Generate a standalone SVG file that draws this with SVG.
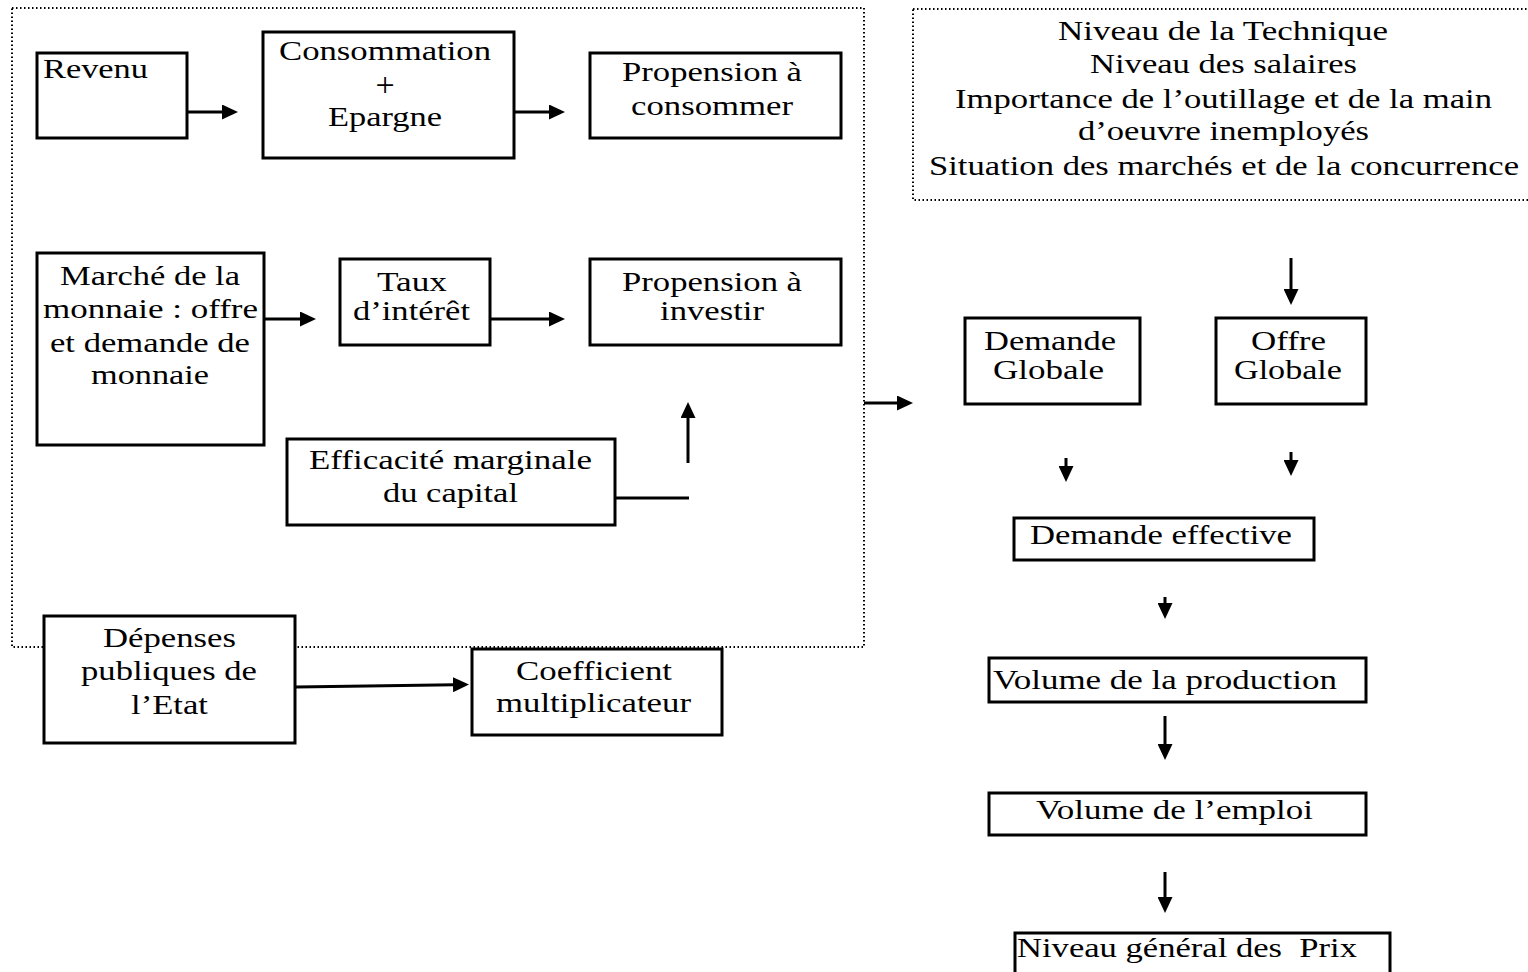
<svg xmlns="http://www.w3.org/2000/svg" width="1528" height="972" viewBox="0 0 1528 972">
<style>
.frame{fill:none;stroke:#000;stroke-width:2;stroke-dasharray:1.5 2.5}
.box{fill:#fff;stroke:#000;stroke-width:3}
.t{font-family:"Liberation Serif","Times New Roman",serif;font-size:27px;fill:#000}
.c{fill:none;stroke:#000;stroke-width:3}
</style>
<defs>
<marker id="arr" markerUnits="userSpaceOnUse" markerWidth="16" markerHeight="15" refX="2" refY="7.5" orient="auto">
<path d="M0,0 L16,7.5 L0,15 z" fill="#000"/>
</marker>
</defs>
<rect width="1528" height="972" fill="#fff"/>
<g id="frames">
<rect class="frame" x="12" y="8" width="852" height="639"/>
<rect class="frame" x="913" y="9" width="640" height="191"/>
</g>
<g id="connectors">
<path class="c" d="M187,112 H224" marker-end="url(#arr)"/>
<path class="c" d="M514,112 H551" marker-end="url(#arr)"/>
<path class="c" d="M264,319 H302" marker-end="url(#arr)"/>
<path class="c" d="M490,319 H551" marker-end="url(#arr)"/>
<path class="c" d="M616,498 H689"/>
<path class="c" d="M688,463 V416" marker-end="url(#arr)"/>
<path class="c" d="M296,687 L455,684.7" marker-end="url(#arr)"/>
<path class="c" d="M864,403 H899" marker-end="url(#arr)"/>
<path class="c" d="M1291,258 V291" marker-end="url(#arr)"/>
<path class="c" d="M1066,458 V468" marker-end="url(#arr)"/>
<path class="c" d="M1291,452 V462" marker-end="url(#arr)"/>
<path class="c" d="M1165,597 V605" marker-end="url(#arr)"/>
<path class="c" d="M1165,716 V746" marker-end="url(#arr)"/>
<path class="c" d="M1165,872 V899" marker-end="url(#arr)"/>
</g>
<g id="facteurs">
<text class="t" x="1058" y="40" textLength="330" lengthAdjust="spacingAndGlyphs">Niveau de la Technique</text>
<text class="t" x="1090" y="73" textLength="267" lengthAdjust="spacingAndGlyphs">Niveau des salaires</text>
<text class="t" x="955" y="108" textLength="537" lengthAdjust="spacingAndGlyphs">Importance de l’outillage et de la main</text>
<text class="t" x="1078" y="140" textLength="291" lengthAdjust="spacingAndGlyphs">d’oeuvre inemployés</text>
<text class="t" x="929" y="175" textLength="590" lengthAdjust="spacingAndGlyphs">Situation des marchés et de la concurrence</text>
</g>
<g id="revenu">
<rect class="box" x="37" y="53" width="150" height="85"/>
<text class="t" x="43" y="78" textLength="105" lengthAdjust="spacingAndGlyphs">Revenu</text>
</g>
<g id="consommation">
<rect class="box" x="263" y="32" width="251" height="126"/>
<text class="t" x="279" y="60" textLength="212" lengthAdjust="spacingAndGlyphs">Consommation</text>
<text class="t" x="385" y="96" text-anchor="middle" style="font-size:34px">+</text>
<text class="t" x="328" y="126" textLength="114" lengthAdjust="spacingAndGlyphs">Epargne</text>
</g>
<g id="propension-consommer">
<rect class="box" x="590" y="53" width="251" height="85"/>
<text class="t" x="622" y="81" textLength="180" lengthAdjust="spacingAndGlyphs">Propension à</text>
<text class="t" x="631" y="115" textLength="162" lengthAdjust="spacingAndGlyphs">consommer</text>
</g>
<g id="marche-monnaie">
<rect class="box" x="37" y="253" width="227" height="192"/>
<text class="t" x="60" y="285" textLength="180" lengthAdjust="spacingAndGlyphs">Marché de la</text>
<text class="t" x="43" y="318" textLength="215" lengthAdjust="spacingAndGlyphs">monnaie : offre</text>
<text class="t" x="50" y="352" textLength="200" lengthAdjust="spacingAndGlyphs">et demande de</text>
<text class="t" x="91" y="384" textLength="118" lengthAdjust="spacingAndGlyphs">monnaie</text>
</g>
<g id="taux-interet">
<rect class="box" x="340" y="259" width="150" height="86"/>
<text class="t" x="377" y="291" textLength="70" lengthAdjust="spacingAndGlyphs">Taux</text>
<text class="t" x="353" y="320" textLength="117" lengthAdjust="spacingAndGlyphs">d’intérêt</text>
</g>
<g id="propension-investir">
<rect class="box" x="590" y="259" width="251" height="86"/>
<text class="t" x="622" y="291" textLength="180" lengthAdjust="spacingAndGlyphs">Propension à</text>
<text class="t" x="660" y="320" textLength="104" lengthAdjust="spacingAndGlyphs">investir</text>
</g>
<g id="efficacite">
<rect class="box" x="287" y="439" width="328" height="86"/>
<text class="t" x="309" y="469" textLength="283" lengthAdjust="spacingAndGlyphs">Efficacité marginale</text>
<text class="t" x="383" y="502" textLength="135" lengthAdjust="spacingAndGlyphs">du capital</text>
</g>
<g id="depenses">
<rect class="box" x="44" y="616" width="251" height="127"/>
<text class="t" x="103" y="647" textLength="133" lengthAdjust="spacingAndGlyphs">Dépenses</text>
<text class="t" x="81" y="680" textLength="176" lengthAdjust="spacingAndGlyphs">publiques de</text>
<text class="t" x="131" y="714" textLength="77" lengthAdjust="spacingAndGlyphs">l’Etat</text>
</g>
<g id="coefficient">
<rect class="box" x="472" y="649" width="250" height="86"/>
<text class="t" x="516" y="680" textLength="156" lengthAdjust="spacingAndGlyphs">Coefficient</text>
<text class="t" x="496" y="712" textLength="195" lengthAdjust="spacingAndGlyphs">multiplicateur</text>
</g>
<g id="demande-globale">
<rect class="box" x="965" y="318" width="175" height="86"/>
<text class="t" x="984" y="350" textLength="132" lengthAdjust="spacingAndGlyphs">Demande</text>
<text class="t" x="993" y="379" textLength="111" lengthAdjust="spacingAndGlyphs">Globale</text>
</g>
<g id="offre-globale">
<rect class="box" x="1216" y="318" width="150" height="86"/>
<text class="t" x="1251" y="350" textLength="75" lengthAdjust="spacingAndGlyphs">Offre</text>
<text class="t" x="1234" y="379" textLength="108" lengthAdjust="spacingAndGlyphs">Globale</text>
</g>
<g id="demande-effective">
<rect class="box" x="1014" y="518" width="300" height="42"/>
<text class="t" x="1030" y="544" textLength="262" lengthAdjust="spacingAndGlyphs">Demande effective</text>
</g>
<g id="volume-production">
<rect class="box" x="989" y="658" width="377" height="44"/>
<text class="t" x="993" y="689" textLength="344" lengthAdjust="spacingAndGlyphs">Volume de la production</text>
</g>
<g id="volume-emploi">
<rect class="box" x="989" y="793" width="377" height="42"/>
<text class="t" x="1036" y="819" textLength="277" lengthAdjust="spacingAndGlyphs">Volume de l’emploi</text>
</g>
<g id="niveau-prix">
<rect class="box" x="1015" y="933" width="375" height="60"/>
<text class="t" x="1017" y="957" textLength="340" lengthAdjust="spacingAndGlyphs" xml:space="preserve">Niveau général des  Prix</text>
</g>
</svg>
